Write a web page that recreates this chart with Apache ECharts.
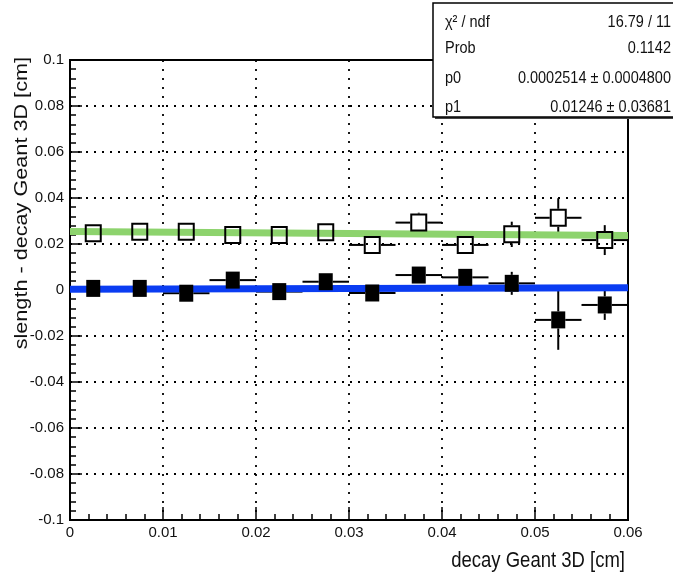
<!DOCTYPE html>
<html><head><meta charset="utf-8">
<script src="https://cdn.jsdelivr.net/npm/echarts@6/dist/echarts.min.js"></script>
<style>html,body{margin:0;padding:0;background:#fff}#c{width:673px;height:575px}</style>
</head><body><div id="c"></div>
<script>
// ---- data ----
const binCenters = [0.0025, 0.0075, 0.0125, 0.0175, 0.0225, 0.0275, 0.0325, 0.0375, 0.0425, 0.0475, 0.0525, 0.0575];
const binHalfWidth = 0.0025;
const openValues  = [0.0247, 0.0253, 0.0253, 0.0239, 0.0239, 0.0251, 0.0196, 0.0293, 0.0196, 0.0242, 0.0314, 0.0217];
const openErrors  = [0.003, 0.003, 0.003, 0.003, 0.003, 0.003, 0.003, 0.0043, 0.003, 0.0055, 0.0085, 0.0065];
const filledValues = [0.0007, 0.0007, -0.0014, 0.0043, -0.0007, 0.0036, -0.0013, 0.0065, 0.0055, 0.0029, -0.0130, -0.0065];
const filledErrors = [0.003, 0.003, 0.003, 0.003, 0.003, 0.003, 0.003, 0.003, 0.003, 0.005, 0.013, 0.0065];
const fitX = [0, 0.06];
const greenFitY = [0.0254, 0.0237];
const blueFitY = [0.0003, 0.0010];
const xTickLabels = ['0', '0.01', '0.02', '0.03', '0.04', '0.05', '0.06'];
const yTickLabels = ['-0.1', '-0.08', '-0.06', '-0.04', '-0.02', '0', '0.02', '0.04', '0.06', '0.08', '0.1'];
const xTitle = 'decay Geant 3D [cm]';
const yTitle = 'slength - decay Geant 3D [cm]';
const statsLabels = ['χ² / ndf', 'Prob', 'p0', 'p1'];
const statsValues = ['16.79 / 11', '0.1142', '0.0002514 ± 0.0004800', '0.01246 ± 0.03681'];

const FONT = '"Liberation Sans", Arial, sans-serif';

function errData(vals, errs) {
  return binCenters.map((x, i) => [x, vals[i], errs[i], binHalfWidth]);
}

function makeErrorRender(mw, mh) {
  return function (params, api) {
    const x = api.value(0), y = api.value(1), e = api.value(2), hw = api.value(3);
    const c = api.coord([x, y]);
    const l = api.coord([x - hw, y]);
    const r = api.coord([x + hw, y]);
    const t = api.coord([x, y + e]);
    const b = api.coord([x, y - e]);
    const st = { stroke: '#000', lineWidth: 2 };
    const ch = [
      { type: 'line', shape: { x1: l[0], y1: c[1], x2: c[0] - mw, y2: c[1] }, style: st },
      { type: 'line', shape: { x1: c[0] + mw, y1: c[1], x2: r[0], y2: c[1] }, style: st }
    ];
    if (c[1] - t[1] > mh) {
      ch.push({ type: 'line', shape: { x1: c[0], y1: t[1], x2: c[0], y2: c[1] - mh }, style: st });
      ch.push({ type: 'line', shape: { x1: c[0], y1: c[1] + mh, x2: c[0], y2: b[1] }, style: st });
    }
    return { type: 'group', children: ch };
  };
}

function makeMarkerRender(open) {
  return function (params, api) {
    const c = api.coord([api.value(0), api.value(1)]);
    if (open) {
      return { type: 'rect', shape: { x: c[0] - 7.5, y: c[1] - 8, width: 15, height: 16 },
        style: { fill: 'none', stroke: '#000', lineWidth: 2 } };
    }
    return { type: 'rect', shape: { x: c[0] - 7, y: c[1] - 8.5, width: 14, height: 17 },
      style: { fill: '#000' } };
  };
}

const chart = echarts.init(document.getElementById('c'), null, { renderer: 'canvas' });

const statsGraphics = [
  { type: 'rect', shape: { x: 435, y: 5, width: 250, height: 114 }, style: { fill: '#444' }, z: 100 },
  { type: 'rect', shape: { x: 433, y: 3, width: 250, height: 114 }, style: { fill: '#fff', stroke: '#000', lineWidth: 1.5 }, z: 101 }
];
const rowY = [22, 48, 78, 107];
statsLabels.forEach((s, i) => {
  statsGraphics.push({ type: 'text', x: 445, y: rowY[i], scaleY: 1.2, z: 102,
    style: { text: s, font: '14.5px ' + FONT, fill: '#111', align: 'left', verticalAlign: 'middle' } });
  statsGraphics.push({ type: 'text', x: 671, y: rowY[i], scaleY: 1.2, z: 102,
    style: { text: statsValues[i], font: '14.5px ' + FONT, fill: '#111', align: 'right', verticalAlign: 'middle' } });
});

const option = {
  animation: false,
  backgroundColor: '#fff',
  grid: { left: 70, right: 45, top: 60, bottom: 55, show: true, borderColor: '#000', borderWidth: 2, backgroundColor: 'transparent' },
  xAxis: {
    type: 'value', min: 0, max: 0.06, interval: 0.01,
    axisLine: { onZero: false, lineStyle: { color: '#000', width: 2 } },
    axisTick: { inside: true, length: 13, lineStyle: { color: '#000', width: 1.5 } },
    minorTick: { show: true, splitNumber: 5, length: 6, lineStyle: { color: '#000', width: 1.5 } },
    splitLine: { show: true, showMinLine: false, showMaxLine: false, lineStyle: { color: '#000', width: 1.8, type: [2, 7] } },
    axisLabel: { margin: 5, fontFamily: FONT, fontSize: 15, color: '#111',
      formatter: v => xTickLabels[Math.round(v / 0.01)] },
  },
  yAxis: {
    type: 'value', min: -0.1, max: 0.1, interval: 0.02,
    axisLine: { onZero: false, lineStyle: { color: '#000', width: 2 } },
    axisTick: { inside: true, length: 12, lineStyle: { color: '#000', width: 1.5 } },
    minorTick: { show: true, splitNumber: 5, length: 6, lineStyle: { color: '#000', width: 1.5 } },
    splitLine: { show: true, showMinLine: false, showMaxLine: false, lineStyle: { color: '#000', width: 1.8, type: [2, 6] } },
    axisLabel: { margin: 6, fontFamily: FONT, fontSize: 15, color: '#111',
      formatter: v => yTickLabels[Math.round((v + 0.1) / 0.02)] },
  },
  graphic: [
    { type: 'text', x: 625, y: 561, scaleY: 1.2,
      style: { text: xTitle, font: '18.5px ' + FONT, fill: '#111', align: 'right', verticalAlign: 'middle' } },
    { type: 'text', x: 22, y: 57, rotation: Math.PI / 2, scaleX: 1.17,
      style: { text: yTitle, font: '18.5px ' + FONT, fill: '#111', align: 'right', verticalAlign: 'middle' } },
    ...statsGraphics
  ],
  series: [
    { type: 'custom', name: 'openErr', z: 2, data: errData(openValues, openErrors), encode: { x: 0, y: 1 },
      renderItem: makeErrorRender(8.5, 9) },
    { type: 'custom', name: 'filledErr', z: 2, data: errData(filledValues, filledErrors), encode: { x: 0, y: 1 },
      renderItem: makeErrorRender(7, 8.5) },
    { type: 'line', name: 'greenFit', z: 3, data: fitX.map((x, i) => [x, greenFitY[i]]), showSymbol: false, symbol: 'none',
      lineStyle: { color: '#8dd36d', width: 7 } },
    { type: 'line', name: 'blueFit', z: 3, data: fitX.map((x, i) => [x, blueFitY[i]]), showSymbol: false, symbol: 'none',
      lineStyle: { color: '#0a3cf2', width: 7 } },
    { type: 'custom', name: 'openMarkers', z: 4, data: errData(openValues, openErrors), encode: { x: 0, y: 1 },
      renderItem: makeMarkerRender(true) },
    { type: 'custom', name: 'filledMarkers', z: 4, data: errData(filledValues, filledErrors), encode: { x: 0, y: 1 },
      renderItem: makeMarkerRender(false) }
  ]
};
chart.setOption(option);
</script>
</body></html>
